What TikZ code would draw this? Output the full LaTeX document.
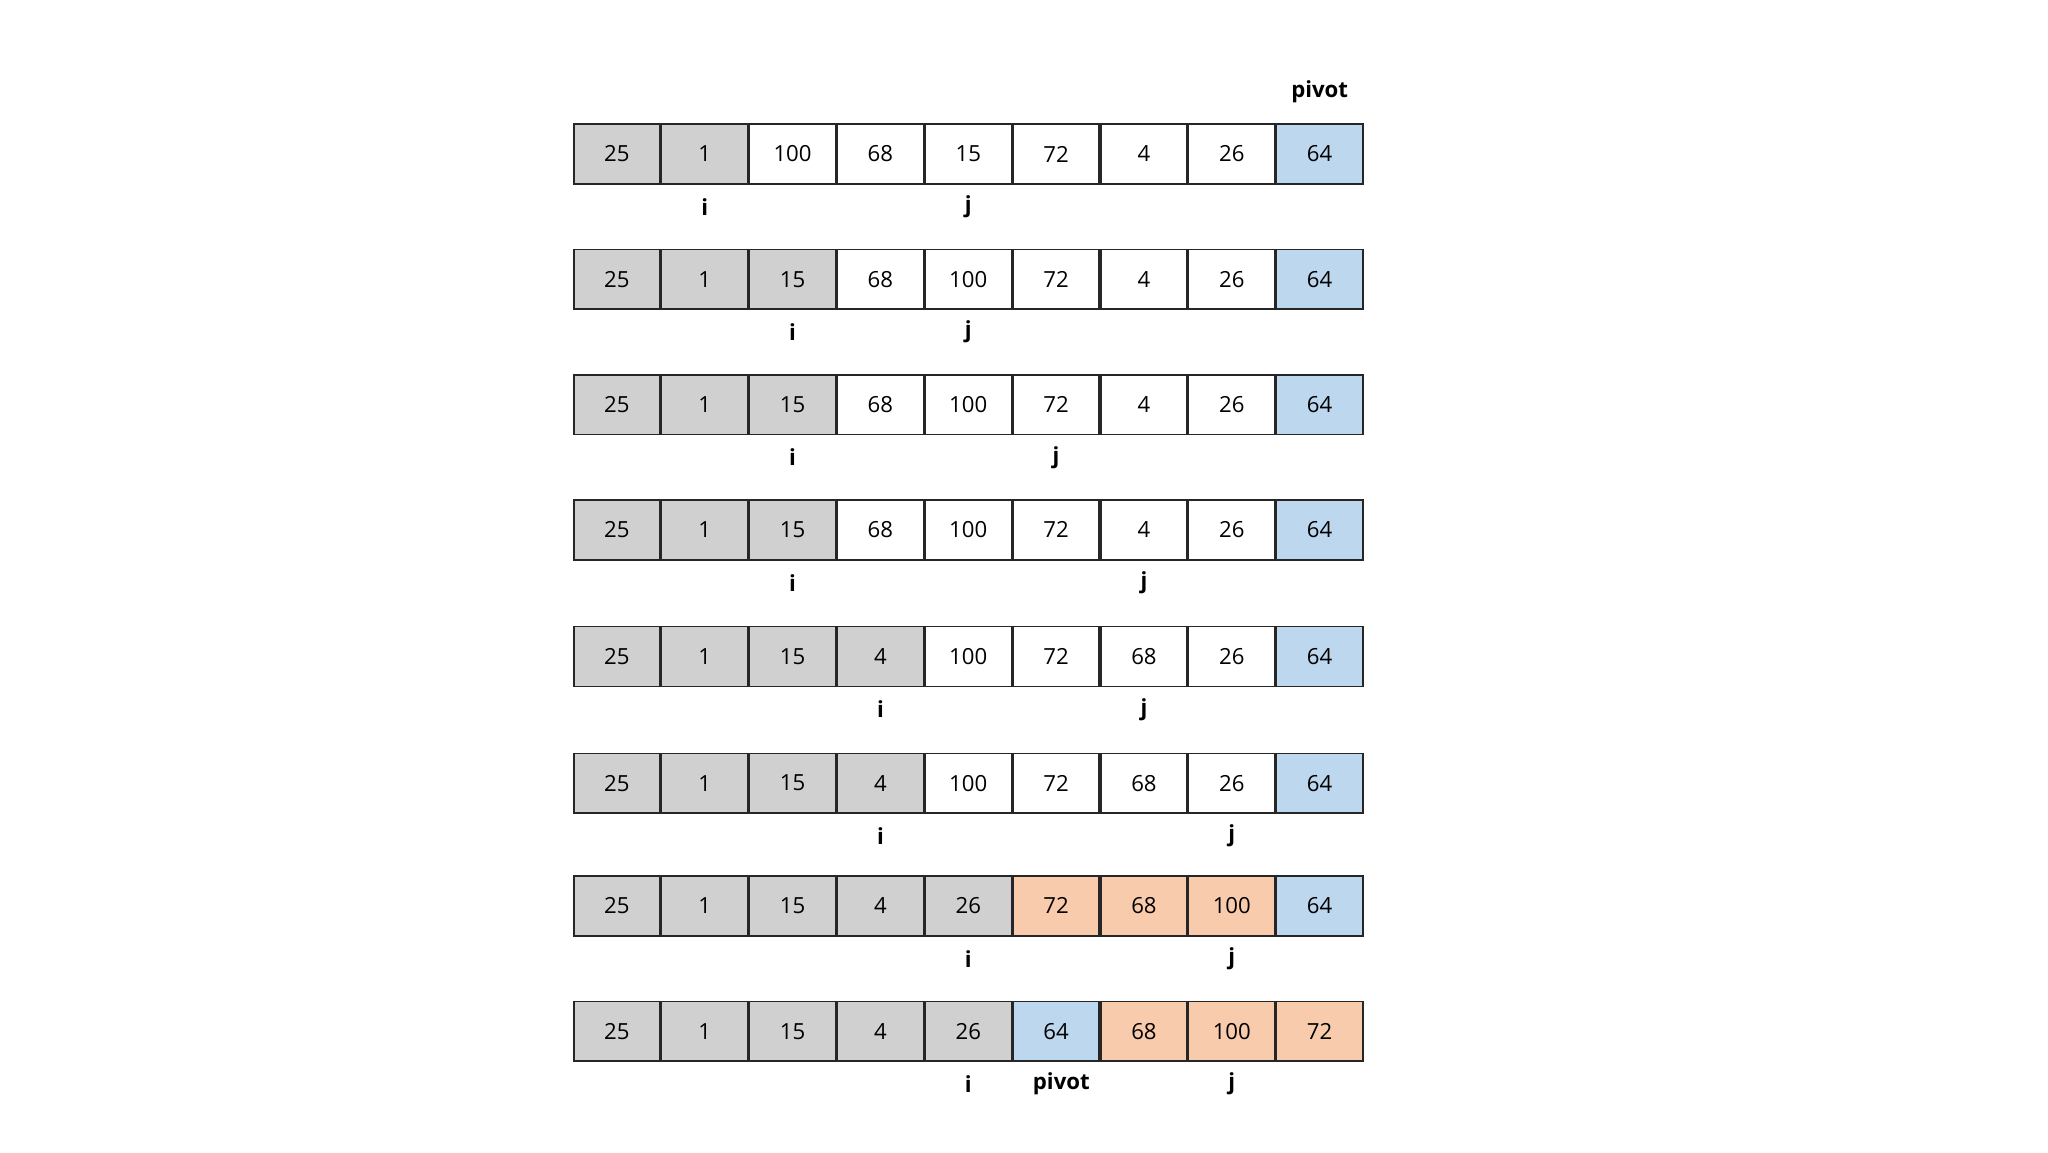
\documentclass[tikz,border=0pt]{standalone}
\usepackage{fontspec}
\setmainfont{Open Sans}
\definecolor{cg}{HTML}{D0D0D0}
\definecolor{cb}{HTML}{BDD7EE}
\definecolor{co}{HTML}{F8CBAD}
\definecolor{cw}{HTML}{FFFFFF}
\begin{document}
\begin{tikzpicture}[x=1pt,y=-1pt,
  cell/.style={draw=black!85,line width=1.2pt,minimum width=66.1pt,minimum height=45.8pt,inner sep=0pt,font=\fontsize{17}{17}\selectfont,anchor=center},
  lbl/.style={font=\fontsize{17}{17}\selectfont\bfseries,inner sep=0pt}]
\useasboundingbox (0,0) rectangle (1569,883);
\foreach \r/\y/\vals in {
 1/118/{25/cg,1/cg,100/cw,68/cw,15/cw,72/cw,4/cw,26/cw,64/cb},
 2/214/{25/cg,1/cg,15/cg,68/cw,100/cw,72/cw,4/cw,26/cw,64/cb},
 3/310/{25/cg,1/cg,15/cg,68/cw,100/cw,72/cw,4/cw,26/cw,64/cb},
 4/406/{25/cg,1/cg,15/cg,68/cw,100/cw,72/cw,4/cw,26/cw,64/cb},
 5/503/{25/cg,1/cg,15/cg,4/cg,100/cw,72/cw,68/cw,26/cw,64/cb},
 6/600/{25/cg,1/cg,15/cg,4/cg,100/cw,72/cw,68/cw,26/cw,64/cb},
 7/694/{25/cg,1/cg,15/cg,4/cg,26/cg,72/co,68/co,100/co,64/cb},
 8/790/{25/cg,1/cg,15/cg,4/cg,26/cg,64/cb,68/co,100/co,72/co}}{
  \foreach \v/\c [count=\k from 0] in \vals {
    \node[cell,fill=\c] (c-\r-\k) at ({472.6+67.3*\k},\y) {\v};
  }
}
\node[lbl] (pv) at ([yshift=24pt]c-1-8.north) {pivot};
\foreach \r/\i/\j in {1/1/4,2/2/4,3/2/5,4/2/6,5/3/6,6/3/7,7/4/7,8/4/7}{
  \node[lbl] (i-\r) at ([yshift=-17pt]c-\r-\i.south) {i};
  \node[lbl] (j-\r) at ([yshift=-17pt]c-\r-\j.south) {j};
}
\node[lbl] (pv2) at ([xshift=4pt,yshift=-17pt]c-8-5.south) {pivot};
\end{tikzpicture}
\end{document}
